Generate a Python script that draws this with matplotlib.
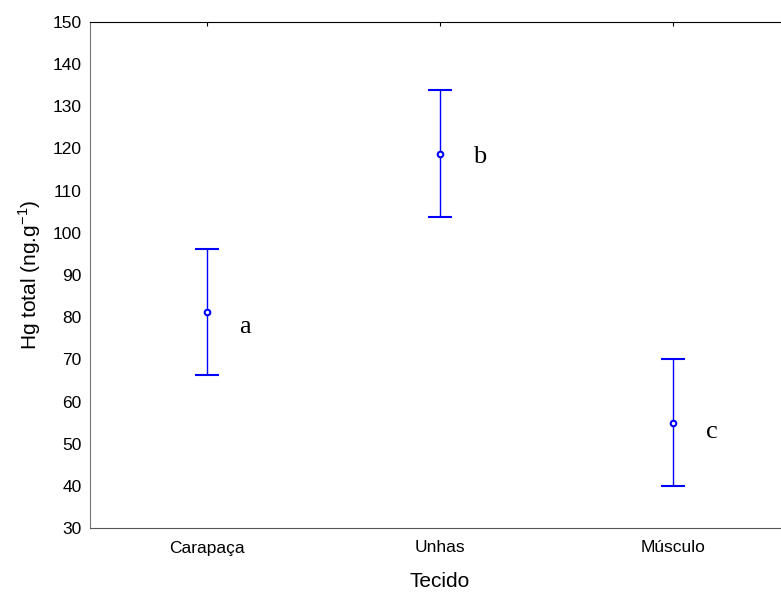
import numpy as np
import matplotlib.pyplot as plt

plt.rcParams['font.family'] = ['Liberation Sans', 'DejaVu Sans']

# médias e intervalos por tecido
tecidos = ['Carapaça', 'Unhas', 'Músculo']
medias = [81.2, 118.8, 55.0]
erro = [15.0, 15.0, 15.0]
letras = ['a', 'b', 'c']
pos_letras = [77.7, 118.1, 52.8]

x = np.arange(1, len(tecidos) + 1)

fig = plt.figure(figsize=(7.81, 5.95), dpi=100)
ax = fig.add_axes([90 / 781, 67 / 595, 700 / 781, 506 / 595])

ax.errorbar(x, medias, yerr=erro, fmt='o', color='blue', ecolor='blue',
            elinewidth=1, capsize=8.5, capthick=1, markersize=4,
            markerfacecolor='white', markeredgewidth=1.5)

for xi, letra, yl in zip(x, letras, pos_letras):
    ax.text(xi + 0.14, yl, letra, fontsize=19, family='Liberation Serif',
            va='center', ha='left')

ax.set_xlim(0.5, 3.5)
ax.set_ylim(30, 150)
ax.set_yticks(range(30, 151, 10))
ax.set_xticks(x)
ax.set_xticklabels(tecidos)

ax.tick_params(axis='y', length=0, pad=6, labelsize=12.5)
ax.tick_params(axis='x', bottom=False, top=True, direction='in', length=3,
               labelbottom=True, pad=9, labelsize=12.5)

ax.spines['left'].set_color('#777777')
ax.spines['bottom'].set_color('#555555')
ax.spines['top'].set_color('black')
ax.spines['right'].set_visible(False)

ax.set_xlabel('Tecido', fontsize=15, labelpad=12)
ax.set_ylabel('Hg total (ng.g$^{\\mathregular{-1}}$)', fontsize=15, labelpad=7)

fig.savefig('out.png', dpi=100)
